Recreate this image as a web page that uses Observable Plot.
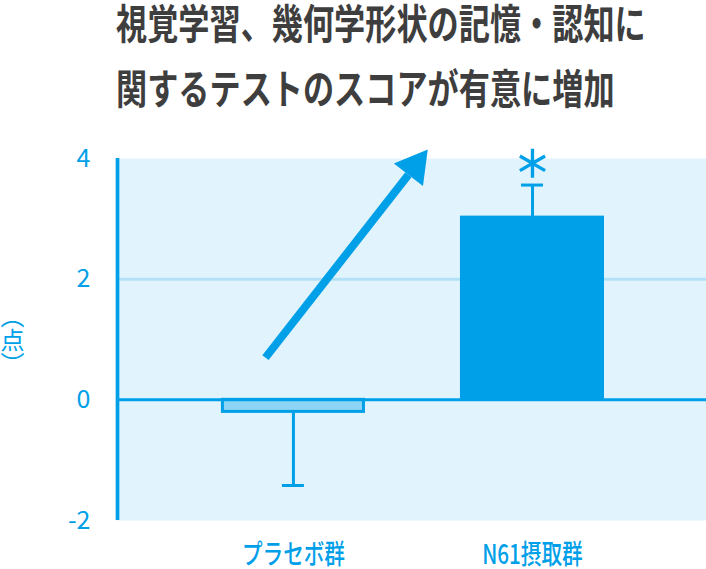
<!DOCTYPE html>
<html>
<head>
<meta charset="utf-8">
<script src="https://cdn.jsdelivr.net/npm/d3@7"></script>
<script src="https://cdn.jsdelivr.net/npm/@observablehq/plot@0.6"></script>
<style>
  html, body { margin: 0; padding: 0; background: #fff; overflow: hidden; }
  #wrap { width: 706px; height: 569px; position: relative; }
  #head { position: relative; height: 130px; }
  #title {
    position: absolute; left: 116px; top: -11px;
    font-family: "Noto Sans CJK JP", sans-serif; font-weight: 700; font-size: 41px;
    line-height: 65px; color: #3e3e3e; white-space: nowrap;
    transform: scaleX(0.76); transform-origin: 0 0; margin: 0;
  }
  #ylabel {
    position: absolute; left: 0px; top: 304px; width: 24px; height: 72px;
    writing-mode: vertical-rl; text-orientation: upright; text-align: center;
    font-family: "Noto Sans CJK JP", sans-serif; font-size: 24px; line-height: 24px;
    color: #00a0e9; margin: 0;
  }
  #chart svg { display: block; }
</style>
</head>
<body>
<div id="wrap">
  <div id="head"><h1 id="title">視覚学習、幾何学形状の記憶・認知に<br>関するテストのスコアが有意に増加</h1></div>
  <div id="chart"></div>
  <div id="ylabel"></div>
</div>
<script>
// ---- data ----
const categories = ["プラセボ群", "N61摂取群"];
const positions = [1, 2];
const means = [-0.2, 3.02];
const errorEnds = [-1.42, 3.56];
const yTicks = [-2, 0, 2, 4];
const gridValues = [2];
const yLabel = "（点）";
const starY = [null, 3.92];
const arrowLine = [{x1: 0.883, y1: 0.70, x2: 1.481, y2: 3.73}];
const arrowHead = [{x: 1.508, y: 3.87}];

const xDomain = [0.264, 2.728];
const yDomain = [-2, 4];

const blue = "#00a0e9";
const light = "#8ed4f4";
const bg = "#e1f3fc";
const grid = "#b2e1f7";

const table = categories.map((c, i) => ({cat: c, pos: positions[i], mean: means[i], err: errorEnds[i], star: starY[i]}));
const halfW = 0.295, capW = 0.046;

const chart = Plot.plot({
  width: 706, height: 439,
  marginLeft: 117, marginRight: 0, marginTop: 28, marginBottom: 49,
  style: {fontFamily: "'Noto Sans CJK JP', sans-serif", background: "#fff", overflow: "visible"},
  x: {domain: xDomain, axis: null},
  y: {domain: yDomain, axis: null},
  marks: [
    Plot.frame({fill: bg, stroke: null}),
    Plot.ruleY(gridValues, {stroke: grid, strokeWidth: 3}),
    Plot.ruleX(table, {x: "pos", y1: "mean", y2: "err", stroke: blue, strokeWidth: 3}),
    Plot.ruleY(table, {y: "err", x1: d => d.pos - capW, x2: d => d.pos + capW, stroke: blue, strokeWidth: 3}),
    Plot.rect(table, {x1: d => d.pos - halfW, x2: d => d.pos + halfW, y1: 0, y2: "mean",
      fill: d => d.mean < 0 ? light : blue, stroke: blue, strokeWidth: 3}),
    Plot.ruleY([0], {stroke: blue, strokeWidth: 3}),
    Plot.ruleX([xDomain[0]], {y1: yDomain[0], y2: yDomain[1], stroke: blue, strokeWidth: 3.7}),
    Plot.dot(table.filter(d => d.star != null), {x: "pos", y: "star", symbol: "asterisk", r: 13.8, stroke: blue, strokeWidth: 3.3}),
    Plot.link(arrowLine, {x1: "x1", y1: "y1", x2: "x2", y2: "y2", stroke: blue, strokeWidth: 8}),
    Plot.dot(arrowHead, {x: "x", y: "y", symbol: "triangle", r: 13.6, fill: blue, stroke: null, rotate: 37.5}),
    Plot.axisY({ticks: yTicks, tickSize: 0, tickPadding: 27, tickFormat: d => String(d), fontSize: 25, fill: blue, label: null}),
    Plot.axisX({ticks: positions, tickSize: 0, tickPadding: 24, tickFormat: d => categories[d - 1], fontSize: 27.5, fontWeight: 500, fill: blue, label: null})
  ]
});
document.getElementById("chart").appendChild(chart);
document.getElementById("ylabel").textContent = yLabel;

// condensed look for category labels
chart.querySelectorAll('g[aria-label="x-axis tick label"] text').forEach(t => {
  t.setAttribute("transform", (t.getAttribute("transform") || "") + " scale(0.75,1)");
});
</script>
</body>
</html>
